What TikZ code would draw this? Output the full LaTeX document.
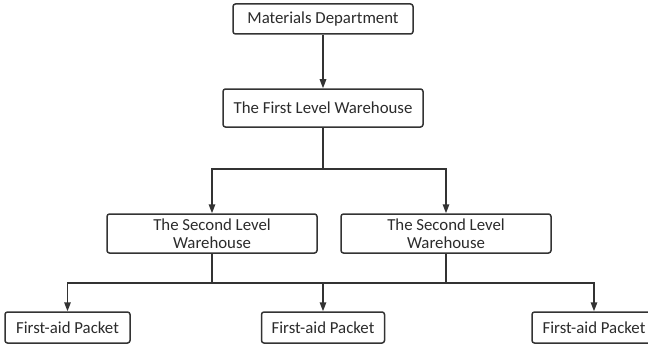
\documentclass[tikz,border=0pt]{standalone}
\usepackage{fontspec}
\setmainfont{Carlito}
\usetikzlibrary{arrows.meta}
\definecolor{linec}{HTML}{333333}
\definecolor{textc}{HTML}{2b2b2b}
\begin{document}
\begin{tikzpicture}[x=1pt,y=-1pt,
  box/.style={draw=linec, line width=1.5pt, rounded corners=2.5pt, inner sep=0pt,
    align=center, font=\fontsize{16.8}{18.5}\selectfont, text=textc, fill=white},
  conn/.style={draw=linec, line width=1.5pt},
  arr/.style={conn, -{Triangle[length=9pt,width=6.5pt]}}]
\useasboundingbox (0,0) rectangle (648,345);
\clip (0,0) rectangle (648,345);
\node[box, minimum width=180pt, minimum height=30pt] (md) at (323,19) {Materials Department};
\node[box, minimum width=200pt, minimum height=38pt] (flw) at (323,108) {The First Level Warehouse};
\node[box, minimum width=210pt, minimum height=39pt] (sl1) at (212,233.5) {The Second Level\\Warehouse};
\node[box, minimum width=210pt, minimum height=39pt] (sl2) at (446,233.5) {The Second Level\\Warehouse};
\node[box, minimum width=125pt, minimum height=31pt] (fa1) at (67.5,327.5) {First-aid Packet};
\node[box, minimum width=123pt, minimum height=31pt] (fa2) at (323,327.5) {First-aid Packet};
\node[box, minimum width=124pt, minimum height=31pt] (fa3) at (594,327.5) {First-aid Packet};
\coordinate (j1) at (323,169);
\coordinate (j2) at (212,283);
\coordinate (j3) at (446,283);
\draw[arr] (md.south) -- (flw.north);
\draw[conn] (flw.south) -- (j1);
\draw[arr] (j1) -| (sl1.north);
\draw[arr] (j1) -| (sl2.north);
\draw[conn] (sl1.south) -- (j2);
\draw[conn] (sl2.south) -- (j3);
\draw[conn] (j2) -- (j3);
\draw[arr] (j2) -| (fa1.north);
\draw[arr] (j3) -| (fa3.north);
\draw[arr] (fa2.north |- j2) -- (fa2.north);
\end{tikzpicture}
\end{document}
